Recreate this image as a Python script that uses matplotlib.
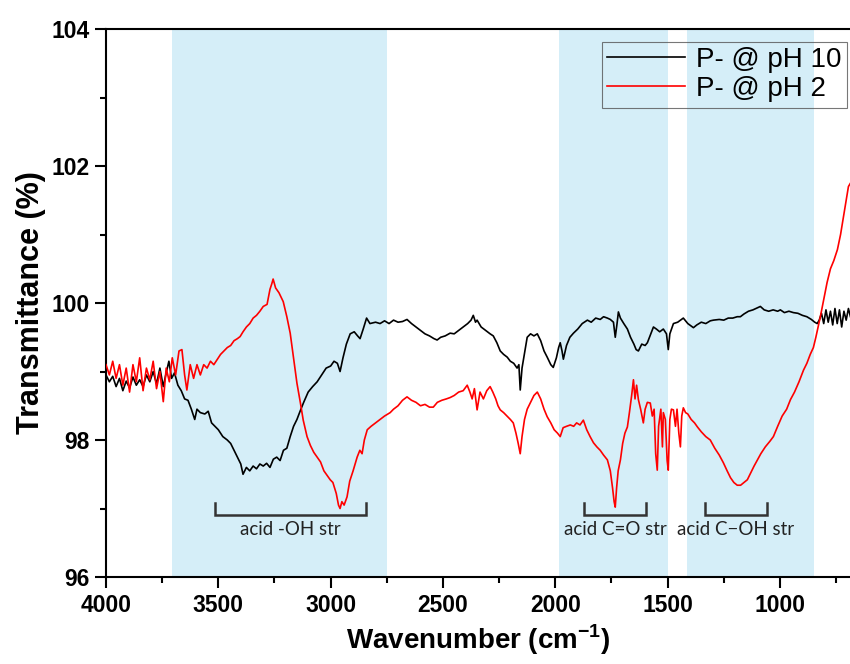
import numpy as np
import matplotlib.pyplot as plt

plt.rcParams['font.family'] = ['Liberation Sans', 'DejaVu Sans']

# FTIR spectrum, P- at pH 10 (black)
wn_ph10 = [4000, 3985, 3970, 3955, 3940, 3925, 3910, 3895, 3880, 3865, 3850, 3835, 3820, 3805,
           3790, 3775, 3760, 3745, 3732, 3720, 3708, 3695, 3680, 3665, 3650, 3635, 3620, 3605,
           3595, 3580, 3560, 3545, 3530, 3515, 3500, 3480, 3460, 3445, 3430, 3415, 3400, 3390,
           3375, 3360, 3345, 3330, 3315, 3300, 3285, 3270, 3255, 3240, 3225, 3210, 3195, 3180,
           3165, 3150, 3136, 3120, 3100, 3080, 3060, 3040, 3020, 3000, 2985, 2970, 2958, 2945,
           2930, 2913, 2895, 2880, 2869, 2855, 2840, 2825, 2800, 2780, 2760, 2740, 2720, 2700,
           2680, 2660, 2640, 2620, 2600, 2580, 2560, 2540, 2526, 2510, 2490, 2468, 2450, 2430,
           2410, 2390, 2375, 2365, 2355, 2348, 2330, 2310, 2290, 2276, 2260, 2245, 2230, 2214,
           2200, 2185, 2170, 2162, 2156, 2148, 2135, 2125, 2110, 2095, 2080, 2065, 2050, 2036,
           2020, 2009, 1995, 1985, 1978, 1970, 1964, 1950, 1935, 1919, 1900, 1880, 1857, 1840,
           1820, 1800, 1785, 1768, 1755, 1741, 1733, 1725, 1719, 1710, 1695, 1679, 1665, 1650,
           1640, 1630, 1615, 1600, 1590, 1575, 1563, 1550, 1535, 1519, 1505, 1497, 1490, 1474,
           1455, 1430, 1410, 1385, 1370, 1350, 1330, 1310, 1296, 1270, 1250, 1230, 1210, 1190,
           1176, 1160, 1140, 1120, 1100, 1087, 1070, 1050, 1030, 1010, 998, 980, 960, 940,
           920, 900, 880, 860, 845, 834, 825, 815, 805, 795, 785, 775, 765, 755,
           745, 735, 725, 715, 705, 695, 686]
t_ph10 = [98.95, 98.85, 98.93, 98.78, 98.90, 98.72, 98.86, 98.76, 98.92, 98.80, 98.88, 98.78, 98.95, 98.85,
          99.00, 98.82, 99.05, 98.78, 98.98, 99.15, 98.90, 98.98, 98.80, 98.72, 98.60, 98.58, 98.45, 98.30,
          98.45, 98.40, 98.38, 98.42, 98.25, 98.20, 98.15, 98.05, 98.00, 97.95, 97.85, 97.75, 97.65, 97.50,
          97.60, 97.55, 97.62, 97.58, 97.65, 97.62, 97.66, 97.60, 97.72, 97.75, 97.70, 97.85, 97.88, 98.05,
          98.20, 98.30, 98.42, 98.55, 98.70, 98.78, 98.85, 98.95, 99.05, 99.08, 99.15, 99.12, 99.00, 99.20,
          99.40, 99.55, 99.58, 99.52, 99.48, 99.62, 99.78, 99.70, 99.72, 99.70, 99.74, 99.70, 99.75, 99.72,
          99.73, 99.76, 99.70, 99.65, 99.60, 99.55, 99.52, 99.48, 99.46, 99.50, 99.52, 99.56, 99.55, 99.60,
          99.65, 99.70, 99.75, 99.82, 99.72, 99.75, 99.65, 99.60, 99.55, 99.52, 99.42, 99.30, 99.25, 99.21,
          99.15, 99.12, 99.05, 99.10, 98.73, 99.05, 99.30, 99.50, 99.55, 99.52, 99.55, 99.45, 99.30, 99.21,
          99.10, 99.06, 99.20, 99.35, 99.42, 99.30, 99.18, 99.38, 99.50, 99.56, 99.62, 99.70, 99.75, 99.72,
          99.78, 99.76, 99.80, 99.78, 99.76, 99.72, 99.50, 99.70, 99.87, 99.78, 99.70, 99.62, 99.50, 99.40,
          99.32, 99.30, 99.40, 99.38, 99.42, 99.55, 99.65, 99.62, 99.58, 99.62, 99.55, 99.32, 99.55, 99.70,
          99.72, 99.78, 99.70, 99.64, 99.68, 99.72, 99.70, 99.74, 99.75, 99.76, 99.75, 99.78, 99.78, 99.80,
          99.80, 99.84, 99.88, 99.90, 99.93, 99.95, 99.90, 99.88, 99.90, 99.88, 99.90, 99.86, 99.88, 99.86,
          99.85, 99.82, 99.80, 99.76, 99.72, 99.70, 99.75, 99.85, 99.70, 99.90, 99.72, 99.88, 99.68, 99.92,
          99.70, 99.90, 99.65, 99.88, 99.75, 99.92, 99.80]

# FTIR spectrum, P- at pH 2 (red)
wn_ph2 = [4000, 3985, 3970, 3955, 3940, 3925, 3910, 3895, 3880, 3865, 3850, 3835, 3820, 3805,
          3790, 3775, 3760, 3745, 3732, 3718, 3705, 3690, 3675, 3662, 3650, 3640, 3625, 3610,
          3595, 3580, 3565, 3550, 3535, 3520, 3506, 3490, 3475, 3460, 3445, 3430, 3415, 3403,
          3390, 3375, 3360, 3345, 3330, 3315, 3300, 3283, 3270, 3262, 3256, 3245, 3230, 3211,
          3195, 3180, 3165, 3150, 3135, 3122, 3105, 3090, 3075, 3060, 3045, 3030, 3015, 3002,
          2990, 2975, 2965, 2958, 2950, 2940, 2927, 2915, 2900, 2882, 2870, 2860, 2850, 2837,
          2820, 2800, 2780, 2760, 2735, 2720, 2700, 2680, 2660, 2640, 2620, 2600, 2580, 2560,
          2543, 2525, 2505, 2485, 2468, 2450, 2430, 2410, 2392, 2380, 2370, 2360, 2348, 2335,
          2320, 2305, 2290, 2278, 2265, 2255, 2245, 2230, 2215, 2200, 2187, 2175, 2165, 2156,
          2148, 2137, 2125, 2110, 2095, 2080, 2065, 2050, 2036, 2020, 2005, 1990, 1978, 1965,
          1950, 1933, 1918, 1905, 1890, 1875, 1860, 1845, 1830, 1815, 1800, 1785, 1768, 1755,
          1745, 1738, 1733, 1727, 1720, 1710, 1700, 1690, 1679, 1670, 1660, 1652, 1645, 1638,
          1630, 1620, 1608, 1600, 1590, 1577, 1568, 1560, 1553, 1546, 1540, 1530, 1523, 1519,
          1510, 1502, 1497, 1490, 1483, 1474, 1465, 1458, 1450, 1443, 1437, 1430, 1420, 1410,
          1395, 1380, 1367, 1350, 1330, 1310, 1290, 1270, 1252, 1235, 1220, 1205, 1190, 1175,
          1160, 1145, 1130, 1115, 1100, 1085, 1065, 1045, 1029, 1010, 990, 970, 953, 935,
          915, 895, 880, 865, 851, 840, 830, 820, 805, 790, 775, 760, 744, 730,
          717, 705, 695, 686]
t_ph2 = [99.10, 98.95, 99.15, 98.90, 99.10, 98.80, 99.05, 98.70, 99.10, 98.85, 99.20, 98.72, 99.05, 98.88,
         99.15, 98.75, 99.00, 98.56, 99.05, 98.85, 99.20, 98.95, 99.30, 99.32, 98.95, 98.73, 99.10, 98.90,
         99.10, 98.95, 99.10, 99.05, 99.15, 99.10, 99.17, 99.25, 99.30, 99.35, 99.38, 99.45, 99.48, 99.51,
         99.58, 99.65, 99.70, 99.78, 99.82, 99.88, 99.95, 99.98, 100.20, 100.28, 100.35, 100.22, 100.15, 100.02,
         99.80, 99.56, 99.20, 98.83, 98.55, 98.29, 98.05, 97.92, 97.82, 97.75, 97.68, 97.55, 97.48, 97.42,
         97.38, 97.22, 97.05, 97.00, 97.10, 97.05, 97.17, 97.40, 97.55, 97.75, 97.85, 97.80, 98.00, 98.15,
         98.20, 98.25, 98.30, 98.35, 98.40, 98.45, 98.50, 98.58, 98.63, 98.58, 98.55, 98.50, 98.52, 98.48,
         98.48, 98.55, 98.58, 98.60, 98.62, 98.65, 98.70, 98.72, 98.80, 98.70, 98.60, 98.75, 98.44, 98.70,
         98.60, 98.72, 98.78, 98.70, 98.60, 98.50, 98.44, 98.40, 98.35, 98.30, 98.25, 98.10, 97.95, 97.80,
         98.05, 98.30, 98.45, 98.55, 98.65, 98.70, 98.60, 98.45, 98.34, 98.25, 98.15, 98.10, 98.05, 98.18,
         98.20, 98.22, 98.20, 98.25, 98.22, 98.29, 98.15, 98.05, 97.96, 97.90, 97.85, 97.78, 97.71, 97.55,
         97.30, 97.10, 97.02, 97.30, 97.55, 97.71, 97.95, 98.10, 98.19, 98.40, 98.65, 98.88, 98.60, 98.80,
         98.59, 98.45, 98.25, 98.45, 98.55, 98.54, 98.35, 98.45, 97.80, 97.56, 98.20, 98.45, 97.90, 98.40,
         98.30, 97.70, 97.56, 98.30, 98.45, 98.44, 98.20, 98.45, 98.10, 97.90, 98.35, 98.47, 98.40, 98.38,
         98.30, 98.25, 98.19, 98.12, 98.05, 98.00, 97.88, 97.78, 97.67, 97.55, 97.45, 97.38, 97.34, 97.34,
         97.38, 97.42, 97.52, 97.62, 97.71, 97.80, 97.90, 97.98, 98.05, 98.20, 98.35, 98.45, 98.59, 98.70,
         98.85, 99.02, 99.12, 99.25, 99.35, 99.50, 99.65, 99.80, 100.05, 100.30, 100.50, 100.62, 100.78, 101.00,
         101.26, 101.50, 101.70, 101.75]

# shaded absorption regions (cm-1)
bands = [(3705, 2750), (1985, 1500), (1415, 850)]
# bracket annotations: (start, end, label)
brackets = [(3514, 2842, 'acid -OH str'),
            (1873, 1596, 'acid C=O str'),
            (1334, 1057, 'acid C\u2212OH str')]

fig = plt.figure(figsize=(8.5, 6.64), dpi=100)
ax = fig.add_axes([0.1247, 0.131, 0.8753, 0.8253])

for a, b in bands:
    ax.axvspan(a, b, color='#d5eef8', lw=0, zorder=0)

ax.plot(wn_ph10, t_ph10, color='black', lw=1.2, label='P- @ pH 10', zorder=3)
ax.plot(wn_ph2, t_ph2, color='#ff0000', lw=1.2, label='P- @ pH 2', zorder=3)

for a, b, txt in brackets:
    ax.plot([a, a, b, b], [97.08, 96.906, 96.906, 97.08], color='#333333', lw=1.8,
            solid_joinstyle='miter', zorder=4)
    ax.text((a + b) / 2, 96.69, txt, ha='center', va='center', fontsize=13.5,
            family=['Lato', 'DejaVu Sans'], color='#222222', zorder=4)

ax.set_xlim(4000, 688)
ax.set_ylim(96, 104)
ax.set_xticks([4000, 3500, 3000, 2500, 2000, 1500, 1000])
ax.set_xticks(np.arange(3750, 600, -500), minor=True)
ax.set_yticks([96, 98, 100, 102, 104])
ax.set_yticks([97, 99, 101, 103], minor=True)
ax.tick_params(which='major', length=8, width=1.5, labelsize=16.5, pad=4)
ax.tick_params(which='minor', length=4.5, width=1.5)
for lab in ax.get_xticklabels() + ax.get_yticklabels():
    lab.set_fontweight('bold')
for s in ['left', 'bottom', 'top']:
    ax.spines[s].set_linewidth(1.5)
ax.spines['right'].set_visible(False)

ax.set_xlabel('Wavenumber (cm$^{\\mathregular{-1}}$)', fontsize=20, fontweight='bold', labelpad=4)
ax.set_ylabel('Transmittance (%)', fontsize=22, fontweight='bold', labelpad=4)

leg = ax.legend(loc='upper right', bbox_to_anchor=(0.996, 0.977), fontsize=20,
                frameon=True, fancybox=False, handlelength=2.8, handletextpad=0.4,
                labelspacing=0.1, borderpad=0.2, borderaxespad=0)
leg.get_frame().set_edgecolor('#555555')
leg.get_frame().set_linewidth(0.8)
leg.get_frame().set_facecolor('none')

fig.savefig('out.png', dpi=100)
